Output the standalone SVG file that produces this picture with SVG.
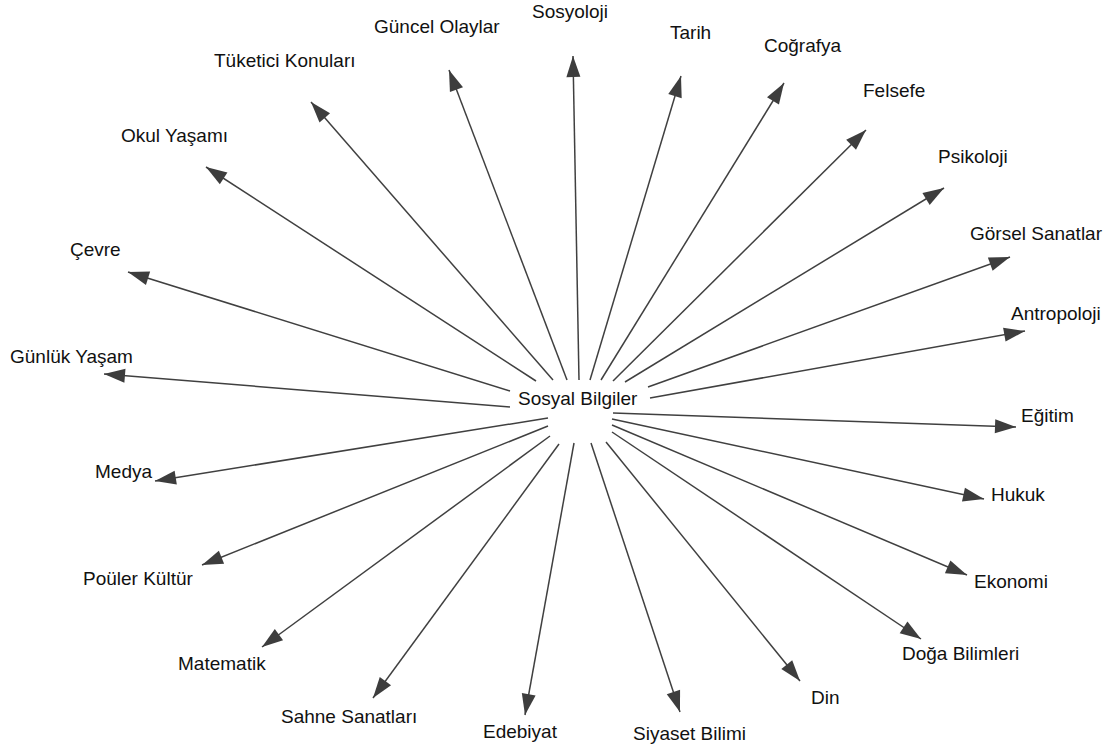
<svg xmlns="http://www.w3.org/2000/svg" width="1114" height="749" viewBox="0 0 1114 749">
<style>
text{font-family:"Liberation Sans",Arial,sans-serif;font-size:19px;fill:#111}
.e{stroke:#404040;stroke-width:1.5;fill:none;marker-end:url(#ah)}
</style>
<defs>
<marker id="ah" markerUnits="userSpaceOnUse" markerWidth="21" markerHeight="14" refX="21" refY="7" orient="auto" overflow="visible">
<path d="M0,0 L21,7 L0,14 Z" fill="#3d3d3d"/>
</marker>
</defs>
<rect width="1114" height="749" fill="#fff"/>
<g id="connectors">
<line class="e" x1="510" y1="407" x2="104" y2="374"/>
<line class="e" x1="510" y1="391" x2="128" y2="272"/>
<line class="e" x1="536" y1="381" x2="206" y2="167"/>
<line class="e" x1="553" y1="380" x2="311" y2="102"/>
<line class="e" x1="567" y1="380" x2="449" y2="70"/>
<line class="e" x1="579" y1="380" x2="573" y2="56"/>
<line class="e" x1="590" y1="380" x2="681" y2="76"/>
<line class="e" x1="601" y1="380" x2="784" y2="83"/>
<line class="e" x1="613" y1="381" x2="866" y2="130"/>
<line class="e" x1="625" y1="382" x2="944" y2="188"/>
<line class="e" x1="648" y1="387" x2="1010" y2="257"/>
<line class="e" x1="650" y1="398" x2="1025" y2="331"/>
<line class="e" x1="613" y1="413" x2="1016" y2="427"/>
<line class="e" x1="612" y1="419" x2="984" y2="499"/>
<line class="e" x1="612" y1="425" x2="967" y2="575"/>
<line class="e" x1="612" y1="432" x2="921" y2="639"/>
<line class="e" x1="606" y1="442" x2="800" y2="681"/>
<line class="e" x1="591" y1="443" x2="680" y2="712"/>
<line class="e" x1="574" y1="443" x2="525" y2="715"/>
<line class="e" x1="559" y1="444" x2="373" y2="698"/>
<line class="e" x1="550" y1="436" x2="262" y2="647"/>
<line class="e" x1="548" y1="426" x2="202" y2="565"/>
<line class="e" x1="548" y1="418" x2="155" y2="481"/>
</g>
<g id="n-sosyal-bilgiler"><text x="518" y="405">Sosyal Bilgiler</text></g>
<g id="n-gunluk-yasam"><text x="10" y="363">Günlük Yaşam</text></g>
<g id="n-cevre"><text x="70" y="256">Çevre</text></g>
<g id="n-okul-yasami"><text x="121" y="142">Okul Yaşamı</text></g>
<g id="n-tuketici-konulari"><text x="214" y="67">Tüketici Konuları</text></g>
<g id="n-guncel-olaylar"><text x="374" y="33">Güncel Olaylar</text></g>
<g id="n-sosyoloji"><text x="532" y="18">Sosyoloji</text></g>
<g id="n-tarih"><text x="670" y="39">Tarih</text></g>
<g id="n-cografya"><text x="764" y="52">Coğrafya</text></g>
<g id="n-felsefe"><text x="863" y="97">Felsefe</text></g>
<g id="n-psikoloji"><text x="938" y="163">Psikoloji</text></g>
<g id="n-gorsel-sanatlar"><text x="970" y="240">Görsel Sanatlar</text></g>
<g id="n-antropoloji"><text x="1011" y="320">Antropoloji</text></g>
<g id="n-egitim"><text x="1021" y="422">Eğitim</text></g>
<g id="n-hukuk"><text x="991" y="501">Hukuk</text></g>
<g id="n-ekonomi"><text x="974" y="588">Ekonomi</text></g>
<g id="n-doga-bilimleri"><text x="902" y="660">Doğa Bilimleri</text></g>
<g id="n-din"><text x="811" y="704">Din</text></g>
<g id="n-siyaset-bilimi"><text x="633" y="740">Siyaset Bilimi</text></g>
<g id="n-edebiyat"><text x="483" y="738">Edebiyat</text></g>
<g id="n-sahne-sanatlari"><text x="281" y="723">Sahne Sanatları</text></g>
<g id="n-matematik"><text x="178" y="670">Matematik</text></g>
<g id="n-pouler-kultur"><text x="83" y="585">Poüler Kültür</text></g>
<g id="n-medya"><text x="95" y="478">Medya</text></g>
</svg>
